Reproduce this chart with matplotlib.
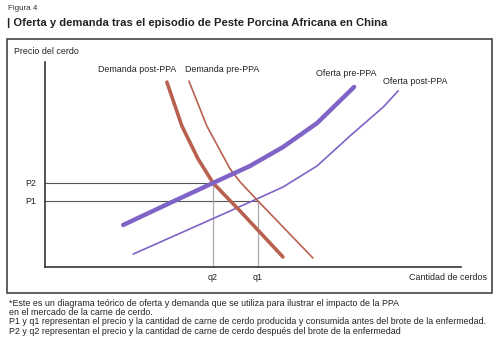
import matplotlib.pyplot as plt
from matplotlib.patches import Rectangle

plt.rcParams['font.family'] = ['Liberation Sans', 'DejaVu Sans']

# curves (quantity, price), arbitrary units 0-100
oferta_pre_q = [18.8, 30.0, 40.4, 49.3, 57.2, 65.4, 74.3]
oferta_pre_p = [20.5, 31.2, 41.0, 49.3, 58.5, 70.2, 87.8]
oferta_post_q = [21.2, 35.3, 49.3, 57.2, 65.4, 73.3, 81.3, 84.9]
oferta_post_p = [6.3, 19.0, 31.7, 39.0, 49.3, 63.9, 78.0, 85.9]
demanda_post_q = [29.3, 32.9, 36.8, 40.4, 46.9, 57.2]
demanda_post_p = [90.2, 68.8, 52.7, 41.0, 27.3, 4.9]
demanda_pre_q = [34.6, 38.9, 44.5, 46.9, 51.2, 64.4]
demanda_pre_p = [90.7, 68.8, 47.8, 41.5, 32.2, 4.4]

q1, p1 = 51.2, 32.2
q2, p2 = 40.4, 41.0

purple = "#7f63c7"
brown = "#b8614f"

W, H = 500, 343
fig = plt.figure(figsize=(W / 100, H / 100), dpi=100)


def fx(px):
    return px / W


def fy(py):
    return 1 - py / H


# frame around the chart
fig.patches.append(Rectangle((fx(7), fy(293)), fx(492) - fx(7), fy(39) - fy(293),
                             transform=fig.transFigure, fill=False, edgecolor="#444444", lw=1.2))

ax = fig.add_axes([fx(45), fy(267), fx(461) - fx(45), fy(62) - fy(267)])
ax.set_xlim(0, 100)
ax.set_ylim(0, 100)
for s in ["top", "right"]:
    ax.spines[s].set_visible(False)
for s in ["left", "bottom"]:
    ax.spines[s].set_color("#333333")
    ax.spines[s].set_linewidth(1.2)
ax.set_xticks([])
ax.set_yticks([])
ax.patch.set_alpha(0)

# reference lines
ax.plot([0, q2], [p2, p2], color="#555555", lw=0.8)
ax.plot([0, q1], [p1, p1], color="#555555", lw=0.8)
ax.plot([q2, q2], [0, p2], color="#aaaaaa", lw=0.9)
ax.plot([q1, q1], [0, p1], color="#aaaaaa", lw=0.9)

ax.plot(oferta_post_q, oferta_post_p, color=purple, lw=1.2, solid_capstyle="round", solid_joinstyle="round")
ax.plot(demanda_pre_q, demanda_pre_p, color=brown, lw=1.2, solid_capstyle="round", solid_joinstyle="round")
ax.plot(demanda_post_q, demanda_post_p, color=brown, lw=2.6, solid_capstyle="round", solid_joinstyle="round")
ax.plot(oferta_pre_q, oferta_pre_p, color=purple, lw=3.2, solid_capstyle="round", solid_joinstyle="round")

fs = 6.4
fig.text(fx(8), fy(8), "Figura 4", fontsize=5.8, color="#333333", va="center")
fig.text(fx(7), fy(23), "| Oferta y demanda tras el episodio de Peste Porcina Africana en China",
         fontsize=8.1, fontweight="bold", color="#222222", va="center")
fig.text(fx(14), fy(52), "Precio del cerdo", fontsize=fs, color="#222222", va="center")
fig.text(fx(137), fy(70), "Demanda post-PPA", fontsize=fs, color="#222222", va="center", ha="center")
fig.text(fx(185), fy(70), "Demanda pre-PPA", fontsize=fs, color="#222222", va="center")
fig.text(fx(316), fy(73), "Oferta pre-PPA", fontsize=fs, color="#222222", va="center")
fig.text(fx(383), fy(81), "Oferta post-PPA", fontsize=fs, color="#222222", va="center")
fig.text(fx(36), fy(184), "P2", fontsize=fs, color="#222222", va="center", ha="right")
fig.text(fx(36), fy(202), "P1", fontsize=fs, color="#222222", va="center", ha="right")
fig.text(fx(213), fy(278), "q2", fontsize=fs, color="#222222", va="center", ha="center")
fig.text(fx(258), fy(278), "q1", fontsize=fs, color="#222222", va="center", ha="center")
fig.text(fx(487), fy(278), "Cantidad de cerdos", fontsize=fs, color="#222222", va="center", ha="right")

notas = [
    "*Este es un diagrama teórico de oferta y demanda que se utiliza para ilustrar el impacto de la PPA",
    "en el mercado de la carne de cerdo.",
    "P1 y q1 representan el precio y la cantidad de carne de cerdo producida y consumida antes del brote de la enfermedad.",
    "P2 y q2 representan el precio y la cantidad de carne de cerdo después del brote de la enfermedad",
]
for i, t in enumerate(notas):
    fig.text(fx(9), fy(303 + i * 9.5), t, fontsize=fs, color="#222222", va="center")

fig.savefig("out.png", dpi=100)
